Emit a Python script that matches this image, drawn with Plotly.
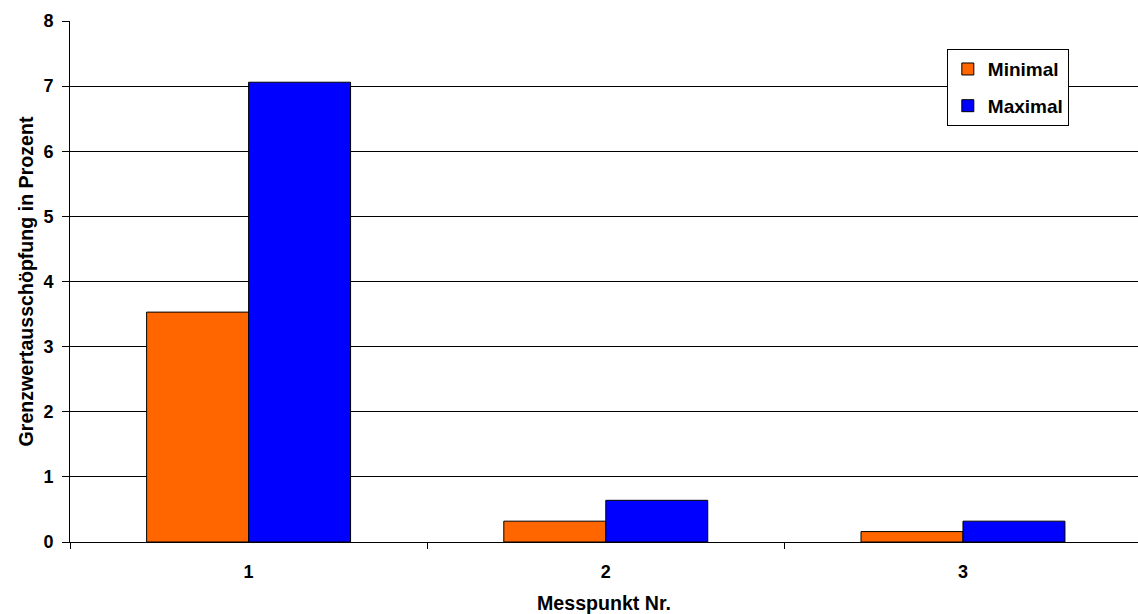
import plotly.graph_objects as go

categories = ["1", "2", "3"]
minimal = [3.53, 0.32, 0.16]
maximal = [7.06, 0.64, 0.32]
y_ticks = [0, 1, 2, 3, 4, 5, 6, 7, 8]

font = "Liberation Sans, Arial, sans-serif"
bold = dict(family=font, size=19, color="black", weight="bold")
tickbold = dict(family=font, size=18, color="black", weight="bold")
titlebold = dict(family=font, size=19.6, color="black", weight="bold")

fig = go.Figure()
fig.add_trace(go.Bar(x=categories, y=minimal, name="Minimal",
                     marker=dict(color="#FF6600", line=dict(color="black", width=1)),
                     legendgroup="a"))
fig.add_trace(go.Bar(x=categories, y=maximal, name="Maximal",
                     marker=dict(color="#0000FF", line=dict(color="black", width=1)),
                     legendgroup="b"))

fig.update_layout(
    width=1138, height=614,
    margin=dict(l=70, r=0, t=21, b=72),
    paper_bgcolor="white", plot_bgcolor="white",
    font=bold,
    barmode="group", bargap=0.429, bargroupgap=0,
    showlegend=True,
    legend=dict(x=0.821, y=0.946, xanchor="left", yanchor="top",
                bordercolor="black", borderwidth=1, bgcolor="white",
                font=bold,
                traceorder="grouped", tracegroupgap=9,
                itemwidth=30),
    xaxis=dict(
        type="category", range=[-0.5, 2.49],
        showline=True, linecolor="black", linewidth=1,
        ticks="outside", tickson="boundaries", ticklen=6, tickcolor="black",
        tickfont=tickbold, ticklabelstandoff=13,
        title=dict(text="Messpunkt Nr.", font=titlebold, standoff=16),
        showgrid=False,
    ),
    yaxis=dict(
        range=[0, 8], tickvals=y_ticks,
        showline=True, linecolor="black", linewidth=1,
        ticks="outside", ticklen=7, tickcolor="black",
        showgrid=True, gridcolor="black", gridwidth=1,
        tickfont=tickbold, ticklabelstandoff=5,
        title=dict(text="Grenzwertausschöpfung in Prozent", font=titlebold, standoff=4),
        zeroline=False,
    ),
)

fig.write_html("out.html")
